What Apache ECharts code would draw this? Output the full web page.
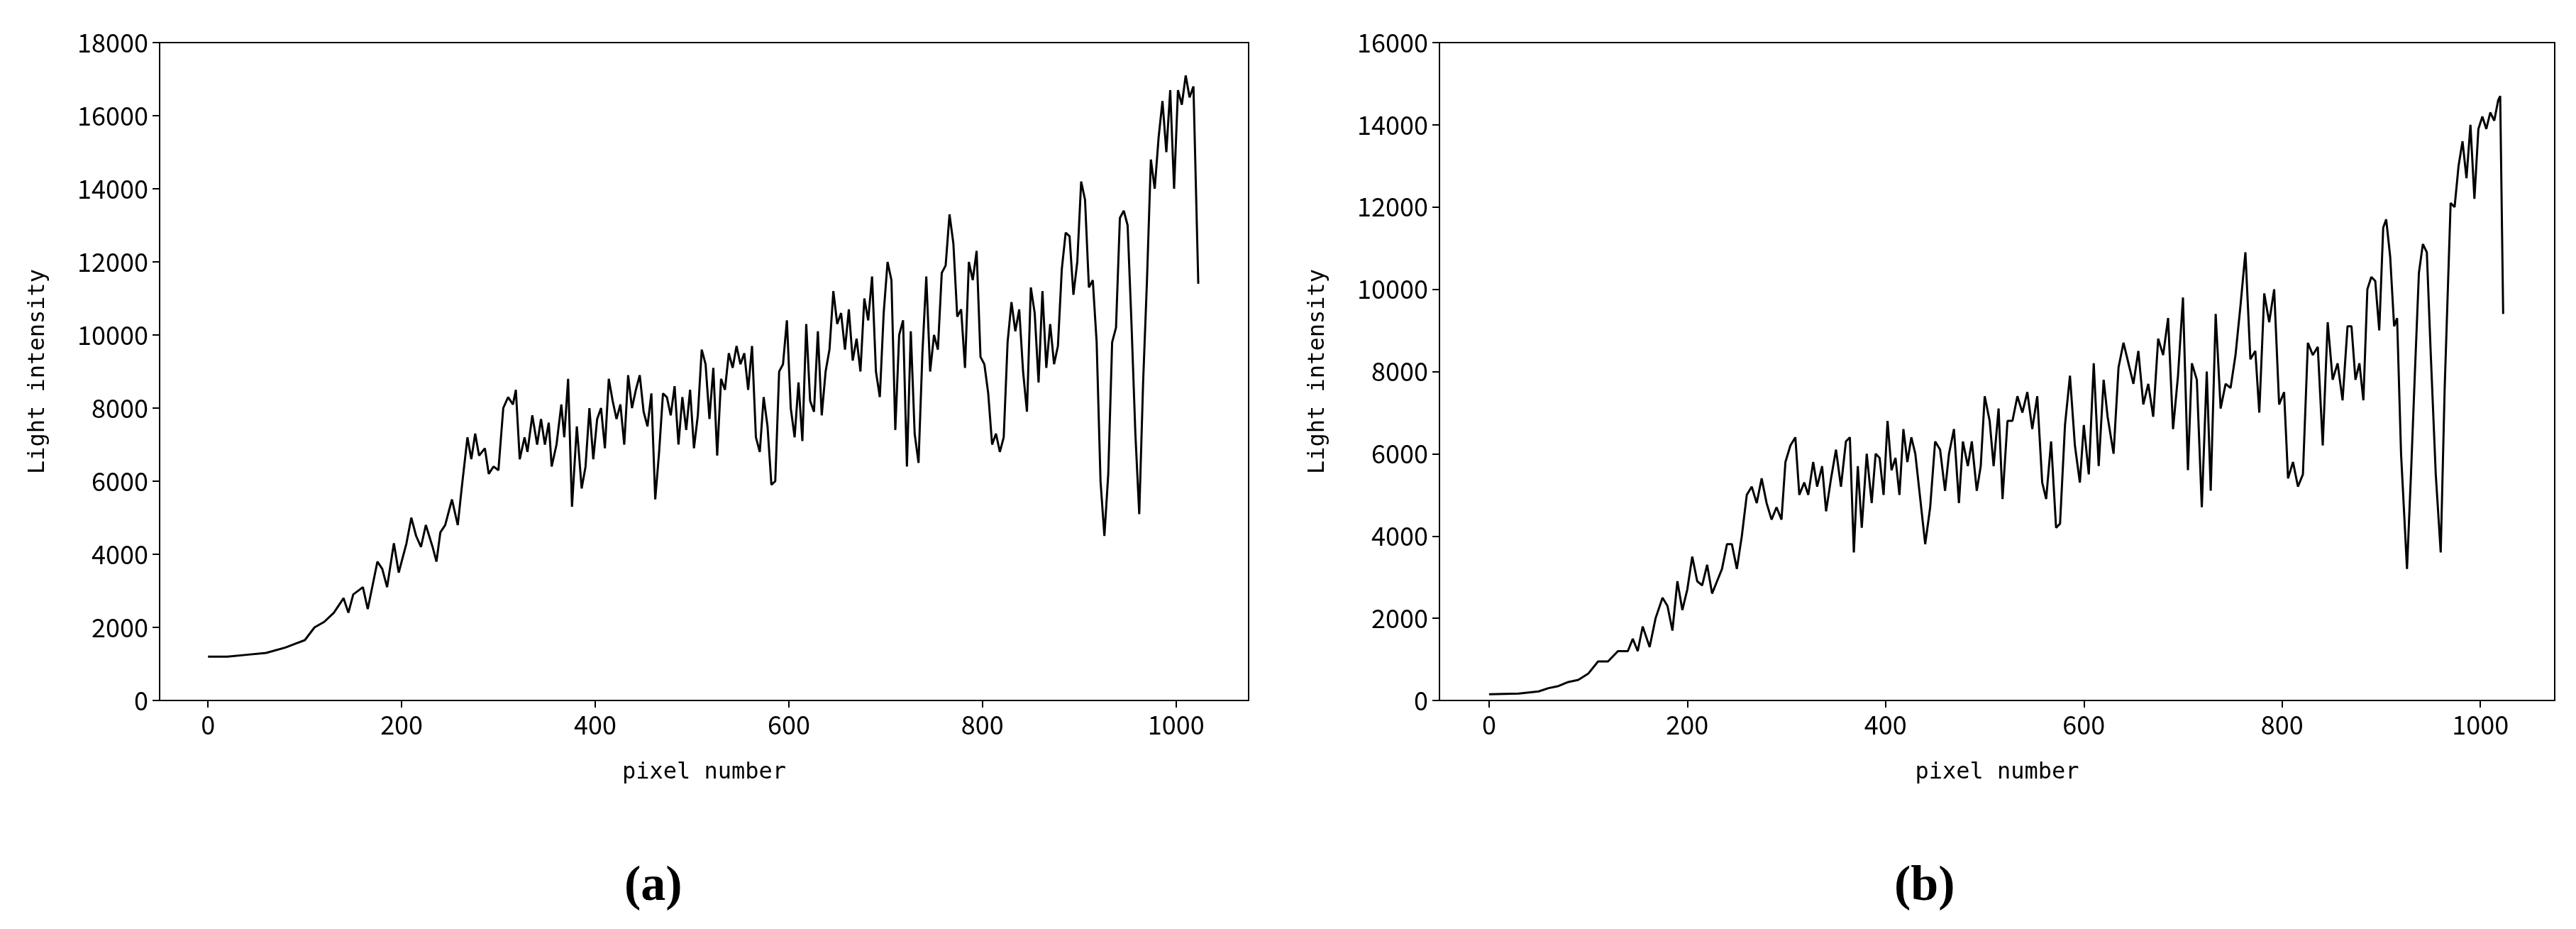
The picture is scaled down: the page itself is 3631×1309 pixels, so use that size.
<!DOCTYPE html>
<html><head><meta charset="utf-8">
<script src="https://cdn.jsdelivr.net/npm/echarts@6/dist/echarts.min.js"></script>
<style>html,body{margin:0;background:#fff}#c{width:3631px;height:1309px}</style>
</head><body><div id="c"></div>
<script>
// panel (a)
const pixA = [0,20,40,60,80,90,100,110,120,130,140,145,150,160,165,175,180,185,192,197,205,210,215,220,225,232,236,240,245,252,258,262,268,272,276,280,286,290,295,300,305,310,315,318,322,327,330,335,340,344,348,352,355,360,365,368,372,376,381,386,390,394,398,402,406,410,414,418,422,426,430,434,438,442,446,450,454,458,462,466,470,474,478,482,486,490,494,498,502,506,510,514,518,522,526,530,534,538,542,546,550,554,558,562,566,570,574,578,582,586,590,594,598,602,606,610,614,618,622,626,630,634,638,642,646,650,654,658,662,666,670,674,678,682,686,690,694,698,702,706,710,714,718,722,726,730,734,738,742,746,750,754,758,762,766,770,774,778,782,786,790,794,798,802,806,810,814,818,822,826,830,834,838,842,846,850,854,858,862,866,870,874,878,882,886,890,894,898,902,906,910,914,918,922,926,930,934,938,942,946,950,954,958,962,966,970,974,978,982,986,990,994,998,1002,1006,1010,1014,1018,1023];
const valA = [1200,1200,1250,1300,1450,1550,1650,2000,2150,2400,2800,2400,2900,3100,2500,3800,3600,3100,4300,3500,4300,5000,4500,4200,4800,4200,3800,4600,4800,5500,4800,5800,7200,6600,7300,6700,6900,6200,6400,6300,8000,8300,8100,8500,6600,7200,6800,7800,7000,7700,7000,7600,6400,7000,8100,7200,8800,5300,7500,5800,6400,8000,6600,7700,8000,6900,8800,8200,7700,8100,7000,8900,8000,8500,8900,7900,7500,8400,5500,6800,8400,8300,7800,8600,7000,8300,7400,8500,6900,7800,9600,9200,7700,9100,6700,8800,8500,9500,9100,9700,9200,9500,8500,9700,7200,6800,8300,7500,5900,6000,9000,9200,10400,8000,7200,8700,7100,10300,8200,7900,10100,7800,9000,9600,11200,10300,10600,9600,10700,9300,9900,9000,11000,10400,11600,9000,8300,10600,12000,11500,7400,10000,10400,6400,10100,7300,6500,9500,11600,9000,10000,9600,11700,11900,13300,12500,10500,10700,9100,12000,11500,12300,9400,9200,8400,7000,7300,6800,7200,9800,10900,10100,10700,9000,7900,11300,10600,8700,11200,9100,10300,9200,9700,11800,12800,12700,11100,12000,14200,13700,11300,11500,9800,6000,4500,6200,9800,10200,13200,13400,13000,10300,7300,5100,8700,11500,14800,14000,15400,16400,15000,16700,14000,16700,16300,17100,16500,16800,11400];
// panel (b): [pixel, intensity]
const ptsB = [
  [0,150],[30,170],[50,220],[60,300],[70,350],[80,450],[90,500],[100,650],[110,950],[120,950],
  [130,1200],[140,1200],[145,1500],[150,1200],[155,1800],[162,1300],[168,2000],[175,2500],[180,2300],[185,1700],
  [190,2900],[195,2200],[200,2700],[205,3500],[210,2900],[215,2800],[220,3300],[225,2600],[230,2900],[235,3200],
  [240,3800],[245,3800],[250,3200],[255,4000],[260,5000],[265,5200],[270,4800],[275,5400],[280,4800],[285,4400],
  [290,4700],[295,4400],[299,5800],[304,6200],[309,6400],[313,5000],[318,5300],[322,5000],[327,5800],[331,5200],
  [336,5700],[340,4600],[345,5400],[350,6100],[355,5200],[360,6300],[364,6400],[368,3600],[372,5700],[376,4200],
  [381,6000],[386,4800],[390,6000],[394,5900],[398,5000],[402,6800],[406,5600],[410,5900],[414,5000],[418,6600],
  [422,5800],[426,6400],[430,6000],[440,3800],[445,4700],[450,6300],[455,6100],[460,5100],[464,6000],[469,6600],
  [474,4800],[478,6300],[483,5700],[487,6300],[492,5100],[496,5700],[500,7400],[505,6800],[509,5700],[514,7100],
  [518,4900],[523,6800],[528,6800],[533,7400],[538,7000],[543,7500],[548,6600],[553,7400],[558,5300],[562,4900],
  [567,6300],[572,4200],[576,4300],[581,6700],[586,7900],[591,6200],[596,5300],[600,6700],[605,5500],[610,8200],
  [615,5700],[620,7800],[624,6900],[630,6000],[635,8100],[640,8700],[645,8200],[650,7700],[655,8500],[660,7200],
  [665,7700],[670,6900],[675,8800],[680,8400],[685,9300],[690,6600],[695,7900],[700,9800],[705,5600],[709,8200],
  [714,7800],[719,4700],[724,8000],[728,5100],[733,9400],[738,7100],[743,7700],[748,7600],[753,8400],[758,9600],
  [763,10900],[768,8300],[773,8500],[777,7000],[782,9900],[787,9200],[792,10000],[797,7200],[802,7500],[806,5400],
  [811,5800],[816,5200],[821,5500],[826,8700],[831,8400],[836,8600],[841,6200],[846,9200],[851,7800],[856,8200],
  [861,7300],[866,9100],[870,9100],[874,7800],[878,8200],[882,7300],[886,10000],[890,10300],[894,10200],[898,9000],
  [902,11500],[905,11700],[909,10800],[913,9100],[916,9300],[920,6000],[926,3200],[930,5500],[934,8000],[938,10400],
  [942,11100],[946,10900],[950,8400],[955,5500],[960,3600],[964,7600],[970,12100],[974,12000],[978,13000],[982,13600],
  [986,12700],[990,14000],[994,12200],[998,13900],[1002,14200],[1006,13900],[1010,14300],[1014,14100],[1018,14600],[1020,14700],
  [1023,9400]
];
const xTicks = [0,200,400,600,800,1000];

const font = 'Noto Sans CJK SC';
const lefts = [225, 2029], widths = [1535, 1572];
const grid = [0,1].map(i => ({left: lefts[i], width: widths[i], top: 60, height: 927, show: true, borderColor: '#000', borderWidth: 2}));
const xAxis = [0,1].map(i => ({gridIndex: i, type: 'value', min: -50, max: 1075,
  name: 'pixel number', nameLocation: 'middle', nameGap: 86, nameTextStyle: {fontFamily: 'DejaVu Sans Mono', fontSize: 32, color: '#000'},
  axisLine: {onZero: false, lineStyle: {color: '#000', width: 2}}, splitLine: {show: false},
  axisTick: {show: true, length: 10, lineStyle: {color: '#000', width: 2}, customValues: xTicks},
  axisLabel: {fontFamily: font, fontSize: 36, color: '#000', margin: 16, customValues: xTicks, formatter: v => String(v)}}));
const yAxis = [0,1].map(i => ({gridIndex: i, type: 'value', min: 0, max: i ? 16000 : 18000, interval: 2000,
  name: 'Light intensity', nameLocation: 'middle', nameGap: 155, nameTextStyle: {fontFamily: 'DejaVu Sans Mono', fontSize: 32, color: '#000'},
  axisLine: {show: true, onZero: false, lineStyle: {color: '#000', width: 2}}, splitLine: {show: false},
  axisTick: {show: true, length: 10, lineStyle: {color: '#000', width: 2}},
  axisLabel: {fontFamily: font, fontSize: 36, color: '#000', margin: 16, formatter: v => String(v)}}));
const chart = echarts.init(document.getElementById('c'), null, {renderer: 'canvas'});
chart.setOption({
  backgroundColor: '#fff', animation: false,
  grid, xAxis, yAxis,
  title: [
    {text: '(a)', left: 875, top: 1210, textStyle: {fontFamily: 'Liberation Serif', fontSize: 70, fontWeight: 'bold', color: '#000'}},
    {text: '(b)', left: 2665, top: 1210, textStyle: {fontFamily: 'Liberation Serif', fontSize: 70, fontWeight: 'bold', color: '#000'}}
  ],
  series: [
    {type: 'line', xAxisIndex: 0, yAxisIndex: 0, data: pixA.map((x, k) => [x, valA[k]]), showSymbol: false, lineStyle: {color: '#000', width: 3}},
    {type: 'line', xAxisIndex: 1, yAxisIndex: 1, data: ptsB, showSymbol: false, lineStyle: {color: '#000', width: 3}}
  ]
});
</script></body></html>
